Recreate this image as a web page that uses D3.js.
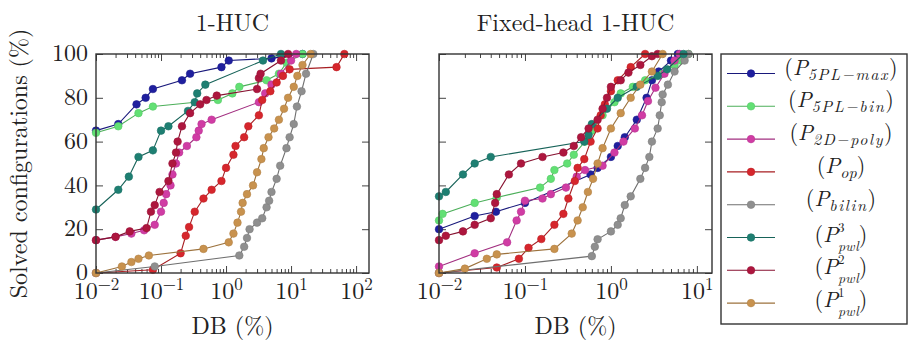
<!DOCTYPE html>
<html><head><meta charset="utf-8">
<script src="https://cdn.jsdelivr.net/npm/d3@7"></script>
<style>body{margin:0;background:#fff} svg text{font-family:"Latin Modern Roman","CMU Serif","Liberation Serif",serif;}</style>
</head><body><svg id="c" width="910" height="345"></svg>
<script>
// ---------- data ----------
const panelTitles = ["1-HUC", "Fixed-head 1-HUC"];
const seriesKeys = ["P5PLmax", "P5PLbin", "P2Dpoly", "Pop", "Pbilin", "Ppwl3", "Ppwl2", "Ppwl1"];
const seriesColors = ["#1f1f9e", "#62e074", "#d03ca4", "#d6262c", "#8f8f8f", "#1e7f72", "#ad163e", "#c8924e"];
const legendSubs = ["5PL\u2212max", "5PL\u2212bin", "2D\u2212poly", "op", "bilin", "pwl", "pwl", "pwl"];
const legendSups = [null, null, null, null, null, "3", "2", "1"];
const yTicks = [0, 20, 40, 60, 80, 100];
const xTicksLeft = [0.01, 0.1, 1, 10, 100];
const xTicksRight = [0.01, 0.1, 1, 10];
const xMaxLeft = 158;
const xMaxRight = 15;

// 1-HUC  [DB %, solved %]
const L_P5PLmax = [[0.01,65],[0.022,68],[0.042,77],[0.058,80],[0.075,84],[0.21,88],[0.28,91],[0.85,94],[1.1,97],[5,98],[15,100]];
const L_P5PLbin = [[0.01,64],[0.022,67],[0.045,73],[0.075,76],[0.75,79],[1.25,82],[1.6,85],[4.2,88],[6.5,91],[8.5,96],[15,100]];
const L_P2Dpoly = [[0.01,15],[0.02,16.5],[0.035,18],[0.055,19.5],[0.08,22],[0.1,28],[0.11,32],[0.12,36],[0.14,40],[0.15,45],[0.17,50],[0.19,55],[0.25,58],[0.35,62],[0.38,65],[0.42,68],[0.6,70],[3.2,78],[4,82],[5,86],[7,91],[10,97],[12,100]];
const L_Pop = [[0.01,0],[0.075,1.5],[0.2,9],[0.24,17],[0.27,21],[0.33,28],[0.45,34],[0.6,38],[0.85,42],[1.0,48],[1.3,54],[1.4,58],[1.9,62],[2.2,67],[3.2,72],[3.6,79],[4.8,83],[6,87],[7.5,90],[9.5,93],[50,94],[66,100]];
const L_Pbilin = [[0.01,0],[0.08,3],[1.6,8],[1.9,12],[2.1,16],[2.3,20],[3,23],[3.6,25],[4.2,30],[4.6,33],[5,37],[6,43],[6.8,49],[8.5,57],[9.5,62],[11,68],[12.3,76],[14.5,83],[17,91],[22,100]];
const L_Ppwl3 = [[0.01,29],[0.022,38],[0.032,44],[0.045,53],[0.075,56],[0.1,65],[0.13,67],[0.26,74],[0.33,78],[0.36,82],[0.48,86],[3.7,97],[7,100]];
const L_Ppwl2 = [[0.01,15],[0.02,16.5],[0.033,19],[0.06,20.5],[0.07,28],[0.08,31],[0.095,37],[0.13,42],[0.15,50],[0.17,55],[0.18,60],[0.21,67],[0.28,73],[0.4,77],[0.5,79],[0.72,81],[3,84],[3.2,89],[3.4,91],[7,97],[9,100]];
const L_Ppwl1 = [[0.01,0],[0.025,3],[0.035,5],[0.045,6.5],[0.065,8],[0.45,11],[1.1,14],[1.3,18],[1.5,23],[1.7,28],[1.8,32],[2.1,36],[2.6,40],[3,46],[3.5,52],[3.8,57],[4.5,62],[5.5,66],[6.5,70],[7.8,75],[9,80],[11,85],[12.5,90],[15,95],[20,100]];

// Fixed-head 1-HUC
const R_P5PLmax = [[0.01,20],[0.026,26],[0.046,28],[0.1,32],[0.58,45],[0.7,48],[1.0,53],[1.2,58],[1.45,62],[2,70],[2.6,80],[3,88],[3.6,92],[5,97],[6,100]];
const R_P5PLbin = [[0.01,24],[0.011,27],[0.026,32],[0.047,34.5],[0.15,39],[0.2,43],[0.22,47],[0.31,50],[0.37,54],[0.5,60],[0.6,65],[0.8,72],[1.1,78],[1.3,82],[1.8,85],[2.5,88],[4,91],[5.5,95],[6.5,97],[8,100]];
const R_P2Dpoly = [[0.01,3],[0.026,9],[0.062,14],[0.08,24],[0.09,28],[0.1,33],[0.16,34],[0.2,36],[0.3,39],[0.4,44],[0.5,47],[0.8,49],[1.1,55],[1.4,60],[1.9,66],[2.3,72],[2.7,78.5],[3.3,84.6],[4.2,91],[5.5,97],[6.3,100]];
const R_Pop = [[0.01,0],[0.047,2.5],[0.085,6.5],[0.11,11.5],[0.155,15.5],[0.22,22],[0.28,27],[0.32,34],[0.38,42],[0.41,48],[0.49,52],[0.58,60],[0.7,66],[0.76,72],[0.85,77],[1.0,83],[1.2,88],[1.7,94],[2.5,100]];
const R_Pbilin = [[0.01,0],[0.6,7.7],[0.65,12],[0.7,15.4],[1.0,19],[1.2,22],[1.3,25],[1.45,31],[1.7,35],[2.2,43],[2.5,48],[2.8,53],[3,60],[3.5,66],[3.7,72],[3.9,78],[4,81.5],[4.6,86],[5.5,92],[7.2,97],[8,100]];
const R_Ppwl3 = [[0.01,35],[0.012,37],[0.019,45],[0.026,50],[0.04,53],[0.49,60],[0.55,63],[0.6,68],[0.9,75],[1.2,80],[2,85],[3.5,90],[4.5,93],[7,100]];
const R_Ppwl2 = [[0.01,15],[0.012,17],[0.019,19],[0.026,22],[0.04,25],[0.045,32],[0.047,36],[0.065,45],[0.09,50],[0.16,53],[0.28,55],[0.37,58],[0.45,62],[0.55,66],[0.7,70],[0.8,75],[0.9,80],[1.0,85],[1.3,88],[1.6,91.5],[2.2,95],[3,99],[3.5,100]];
const R_Ppwl1 = [[0.01,0],[0.02,2],[0.036,6.5],[0.047,8.5],[0.22,11],[0.35,18],[0.41,24],[0.47,30],[0.54,37],[0.62,43],[0.7,50],[0.8,57],[1.0,66],[1.3,73],[1.7,80],[2.2,86],[3,92],[4,100]];

const leftData = [L_P5PLmax, L_P5PLbin, L_P2Dpoly, L_Pop, L_Pbilin, L_Ppwl3, L_Ppwl2, L_Ppwl1];
const rightData = [R_P5PLmax, R_P5PLbin, R_P2Dpoly, R_Pop, R_Pbilin, R_Ppwl3, R_Ppwl2, R_Ppwl1];

// ---------- drawing ----------
const FONT = '"Latin Modern Roman", "CMU Serif", "Liberation Serif", serif';
const TXT = "#222";
const svg = d3.select("#c");
const plotTop = 54, plotBot = 273;
const y = d3.scaleLinear().domain([0, 100]).range([plotBot, plotTop]);

function minorTicks(dom) {
  const out = [];
  for (let e = -3; e <= 3; e++) for (let k = 2; k <= 9; k++) {
    const v = k * Math.pow(10, e);
    if (v > dom[0] && v < dom[1]) out.push(v);
  }
  return out;
}

function panel(x0, x1, xmax, xticks, data, title, showY) {
  const x = d3.scaleLog().domain([0.01, xmax]).range([x0, x1]);
  const g = svg.append("g");
  const rm = s => s.call(a => a.select(".domain").remove());
  const tickStyle = s => s.selectAll("line").attr("stroke", "#444").attr("stroke-width", 1);
  g.append("g").attr("transform", `translate(0,${plotBot})`).call(d3.axisBottom(x).tickValues(xticks).tickSize(-7).tickFormat("")).call(rm).call(tickStyle);
  g.append("g").attr("transform", `translate(0,${plotBot})`).call(d3.axisBottom(x).tickValues(minorTicks(x.domain())).tickSize(-4).tickFormat("")).call(rm).call(tickStyle);
  g.append("g").attr("transform", `translate(0,${plotTop})`).call(d3.axisTop(x).tickValues(xticks).tickSize(-7).tickFormat("")).call(rm).call(tickStyle);
  g.append("g").attr("transform", `translate(0,${plotTop})`).call(d3.axisTop(x).tickValues(minorTicks(x.domain())).tickSize(-4).tickFormat("")).call(rm).call(tickStyle);
  g.append("g").attr("transform", `translate(${x0},0)`).call(d3.axisLeft(y).tickValues(yTicks).tickSize(-7).tickFormat("")).call(rm).call(tickStyle);
  g.append("g").attr("transform", `translate(${x1},0)`).call(d3.axisRight(y).tickValues(yTicks).tickSize(-7).tickFormat("")).call(rm).call(tickStyle);

  const xl = g.append("g").attr("transform", `translate(0,${plotBot})`)
    .call(d3.axisBottom(x).tickValues(xticks).tickSize(0).tickFormat(""));
  xl.select(".domain").remove();
  xl.selectAll(".tick text").each(function(d) {
    const t = d3.select(this).attr("dy", null).attr("y", 26)
      .style("font-family", FONT).style("font-size", "24px").attr("fill", TXT);
    const e = Math.round(Math.log10(d));
    t.append("tspan").text("10");
    t.append("tspan").attr("dy", -9).style("font-size", "17px").text(e < 0 ? "\u2212" + (-e) : String(e));
  });

  if (showY) {
    const yl = g.append("g").attr("transform", `translate(${x0},0)`)
      .call(d3.axisLeft(y).tickValues(yTicks).tickSize(0).tickPadding(8));
    yl.select(".domain").remove();
    yl.selectAll(".tick text").style("font-family", FONT).style("font-size", "24px").attr("fill", TXT).attr("dy", "0.28em");
  }

  const line = d3.line().x(d => x(d[0])).y(d => y(d[1]));
  data.forEach((ser, i) => {
    const c = seriesColors[i];
    const sg = g.append("g");
    sg.append("path").datum(ser).attr("d", line).attr("fill", "none")
      .attr("stroke", d3.color(c).darker(0.7)).attr("stroke-width", 1.1);
    sg.selectAll("circle").data(ser).join("circle")
      .attr("cx", d => x(d[0])).attr("cy", d => y(d[1])).attr("r", 3.8)
      .attr("fill", c).attr("stroke", d3.color(c).darker(0.3)).attr("stroke-width", 0.6);
  });

  g.append("rect").attr("x", x0).attr("y", plotTop).attr("width", x1 - x0).attr("height", plotBot - plotTop)
    .attr("fill", "none").attr("stroke", "#333").attr("stroke-width", 1.4);

  g.append("text").attr("x", (x0 + x1) / 2).attr("y", 31).attr("text-anchor", "middle")
    .style("font-family", FONT).style("font-size", "24px").attr("fill", TXT).text(title);
  g.append("text").attr("x", (x0 + x1) / 2).attr("y", 334).attr("text-anchor", "middle")
    .style("font-family", FONT).style("font-size", "24px").attr("fill", TXT).text("DB (%)");
}

panel(96, 369, xMaxLeft, xTicksLeft, leftData, panelTitles[0], true);
panel(439, 712, xMaxRight, xTicksRight, rightData, panelTitles[1], false);

svg.append("text").attr("transform", `translate(27,${(plotTop + plotBot) / 2}) rotate(-90)`)
  .attr("text-anchor", "middle").style("font-family", FONT).style("font-size", "24px")
  .attr("fill", TXT).text("Solved configurations (%)");

// legend
const lg = svg.append("g");
lg.append("rect").attr("x", 721).attr("y", 54).attr("width", 186).attr("height", 270)
  .attr("fill", "#fff").attr("stroke", "#333").attr("stroke-width", 1.4);
seriesKeys.forEach((k, i) => {
  const cy = 73.5 + i * 32.8;
  const c = seriesColors[i];
  lg.append("line").attr("x1", 727).attr("x2", 775).attr("y1", cy).attr("y2", cy)
    .attr("stroke", d3.color(c).darker(0.7)).attr("stroke-width", 1.1);
  lg.append("circle").attr("cx", 751).attr("cy", cy).attr("r", 3.8).attr("fill", c)
    .attr("stroke", d3.color(c).darker(0.3)).attr("stroke-width", 0.6);
  const t = lg.append("text").attr("x", 841).attr("text-anchor", "middle")
    .style("font-family", FONT).style("font-size", "22px").attr("fill", TXT);
  if (legendSups[i]) {
    // P with stacked superscript / subscript
    t.attr("y", cy + 4);
    t.append("tspan").text("(");
    t.append("tspan").style("font-style", "italic").text("P");
    t.append("tspan").attr("dy", -10).style("font-size", "13px").text(legendSups[i]);
    t.append("tspan").attr("dx", -6.5).attr("dy", 19).style("font-size", "14px").style("font-style", "italic").text(legendSubs[i]);
    t.append("tspan").attr("dy", -9).text(")");
  } else {
    t.attr("y", cy + 1);
    const wide = legendSubs[i].length > 4;
    t.append("tspan").text("(");
    t.append("tspan").style("font-style", "italic").text("P");
    t.append("tspan").attr("dy", 5).style("font-size", "16px").style("font-style", "italic")
      .attr("letter-spacing", wide ? "1.6px" : "0px").text(legendSubs[i]);
    t.append("tspan").attr("dy", -5).text(")");
  }
});
</script></body></html>
